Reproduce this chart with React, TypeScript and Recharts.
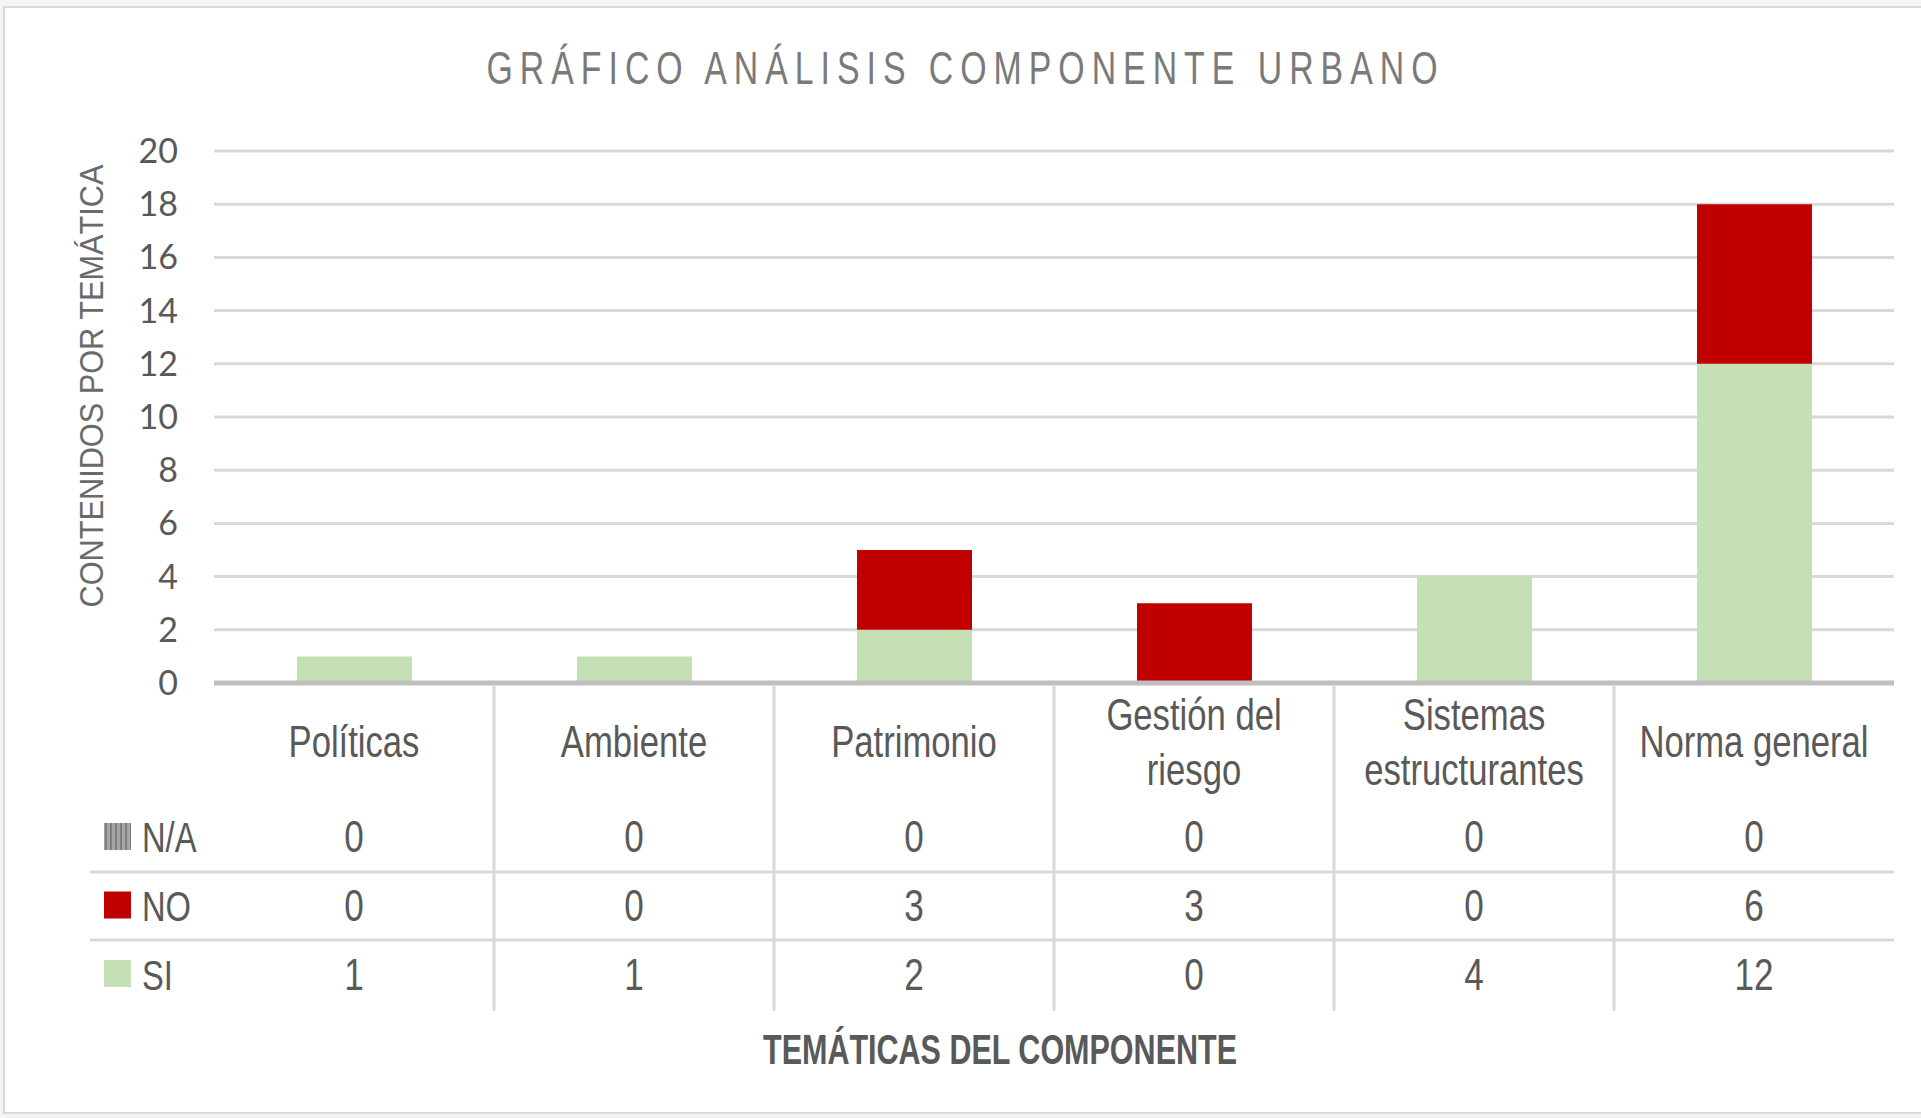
import { BarChart, Bar, XAxis, YAxis, CartesianGrid } from 'recharts';

const categories = ['Políticas', 'Ambiente', 'Patrimonio', 'Gestión del riesgo', 'Sistemas estructurantes', 'Norma general'];
const siValues = [1, 1, 2, 0, 4, 12];
const noValues = [0, 0, 3, 3, 0, 6];
const naValues = [0, 0, 0, 0, 0, 0];
const yTicks = [0, 2, 4, 6, 8, 10, 12, 14, 16, 18, 20];

// table rows, top to bottom
const rows = [
  { key: 'na', name: 'N/A', values: naValues, fill: 'url(#naStripes)' },
  { key: 'no', name: 'NO', values: noValues, fill: '#c00000' },
  { key: 'si', name: 'SI', values: siValues, fill: '#c5e0b4' },
];

const data = categories.map((cat, i) => ({ cat, si: siValues[i], no: noValues[i], na: naValues[i] }));

const W = 1921;
const H = 1118;
const PLOT_L = 214;
const PLOT_R = 1894;
const PLOT_T = 151;
const PLOT_B = 683;
const CAT_W = (PLOT_R - PLOT_L) / categories.length;
const TABLE_L = 90;
const FONT = '"Liberation Sans", Arial, sans-serif';
const LINE = '#d9d9d9';
const TEXT = '#595959';

function wrap(label: string, max: number) {
  const out: string[] = [];
  let cur = '';
  label.split(' ').forEach(w => {
    const next = cur ? cur + ' ' + w : w;
    if (next.length > max && cur) {
      out.push(cur);
      cur = w;
    } else {
      cur = next;
    }
  });
  if (cur) out.push(cur);
  return out;
}

// regular font squeezed horizontally to get the narrow Excel look
function Narrow({ x, y, sx = 0.77, size = 45, anchor = 'middle', fill = TEXT, spacing = 0, weight, children }: any) {
  return (
    <g transform={`translate(${x},${y}) scale(${sx},1)`}>
      <text x={0} y={0} textAnchor={anchor} fontFamily={FONT} fontSize={size} fill={fill} letterSpacing={spacing} fontWeight={weight}>
        {children}
      </text>
    </g>
  );
}

function TableTick(props: any) {
  const { x, y, payload } = props;
  const i = categories.indexOf(payload.value);
  const lines = wrap(payload.value, 13);
  const left = x - CAT_W / 2;
  const right = x + CAT_W / 2;
  const labelY = lines.length > 1 ? [47, 102] : [74];
  return (
    <g>
      {i > 0 && <line x1={left} x2={left} y1={y + 3} y2={y + 328} stroke={LINE} strokeWidth={3} />}
      {[189, 257].map(dy => (
        <line key={dy} x1={i === 0 ? TABLE_L : left} x2={right} y1={y + dy} y2={y + dy} stroke={LINE} strokeWidth={3} />
      ))}
      {lines.map((l, k) => (
        <Narrow key={k} x={x} y={y + labelY[k]} size={45} sx={0.77}>
          {l}
        </Narrow>
      ))}
      {rows.map((r, k) => (
        <Narrow key={r.key} x={x} y={y + 169 + k * 69} size={45} sx={0.78}>
          {r.values[i]}
        </Narrow>
      ))}
      {i === 0 &&
        rows.map((r, k) => (
          <g key={r.key}>
            <rect x={104} y={y + 140 + k * 68.5} width={27} height={27} fill={r.fill} />
            <Narrow x={142} y={y + 169 + k * 69} size={43} sx={0.76} anchor="start">
              {r.name}
            </Narrow>
          </g>
        ))}
    </g>
  );
}

export default function App() {
  return (
    <div style={{ position: 'absolute', left: 0, top: 0, width: W, height: H, background: '#f3f4f6', overflow: 'hidden' }}>
      <div style={{ position: 'absolute', left: 3, top: 6, width: 1940, height: 1104, background: '#fff', border: '2px solid #d9d9d9' }} />
      <svg width={0} height={0} style={{ position: 'absolute' }}>
        <defs>
          <pattern id="naStripes" patternUnits="userSpaceOnUse" width={5} height={5}>
            <rect width={5} height={5} fill="#a6a6a6" />
            <rect width={2} height={5} fill="#7f7f7f" />
          </pattern>
        </defs>
      </svg>
      <div style={{ position: 'absolute', left: 0, top: 0 }}>
        <BarChart width={W} height={H} data={data} margin={{ top: PLOT_T, right: W - PLOT_R, bottom: 0, left: PLOT_L - 80 }}>
          <CartesianGrid vertical={false} stroke={LINE} strokeWidth={3} />
          <YAxis
            width={80}
            domain={[0, 20]}
            ticks={yTicks}
            axisLine={false}
            tickLine={false}
            tickSize={0}
            tickMargin={36}
            tick={{ fontFamily: 'Lato, sans-serif', fontSize: 34, fill: TEXT }}
          />
          <XAxis
            dataKey="cat"
            height={H - PLOT_B}
            axisLine={{ stroke: '#bfbfbf', strokeWidth: 5 }}
            tickLine={false}
            tickSize={0}
            tickMargin={0}
            interval={0}
            tick={<TableTick />}
          />
          <Bar dataKey="si" stackId="a" fill="#c5e0b4" barSize={115} isAnimationActive={false} />
          <Bar dataKey="no" stackId="a" fill="#c00000" barSize={115} isAnimationActive={false} />
          <Bar dataKey="na" stackId="a" fill="url(#naStripes)" barSize={115} isAnimationActive={false} />
        </BarChart>
      </div>
      <svg width={W} height={H} style={{ position: 'absolute', left: 0, top: 0, pointerEvents: 'none' }}>
        <g transform="translate(962,84) scale(0.72,1)">
          <text x={0} y={0} textAnchor="middle" fontFamily={FONT} fontSize={47} fill="#7a7a7a" textLength={951 / 0.72} lengthAdjust="spacing">
            GRÁFICO ANÁLISIS COMPONENTE URBANO
          </text>
        </g>
        <text transform="translate(103,386) rotate(-90)" textAnchor="middle" fontFamily={FONT} fontSize={34} fill="#6a6a6a" textLength={443} lengthAdjust="spacingAndGlyphs">
          CONTENIDOS POR TEMÁTICA
        </text>
        <text x={1000} y={1064} textAnchor="middle" fontFamily={FONT} fontWeight="bold" fontSize={42} fill={TEXT} textLength={474} lengthAdjust="spacingAndGlyphs">
          TEMÁTICAS DEL COMPONENTE
        </text>
      </svg>
    </div>
  );
}
